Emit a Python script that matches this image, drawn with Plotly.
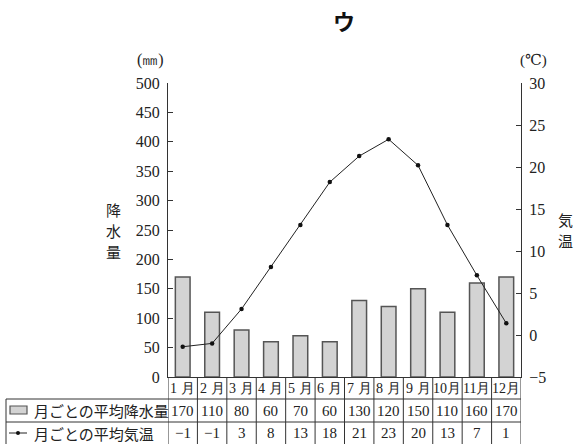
import plotly.graph_objects as go

months = ["1月", "2月", "3月", "4月", "5月", "6月", "7月", "8月", "9月", "10月", "11月", "12月"]
month_labels = ["1 月", "2 月", "3 月", "4 月", "5 月", "6 月", "7 月", "8 月", "9 月", "10月", "11月", "12月"]
precip = [170, 110, 80, 60, 70, 60, 130, 120, 150, 110, 160, 170]
temp_table = [-1, -1, 3, 8, 13, 18, 21, 23, 20, 13, 7, 1]
temp_plot = [-1.4, -1.0, 3.1, 8.1, 13.1, 18.2, 21.3, 23.3, 20.2, 13.1, 7.1, 1.4]
left_ticks = list(range(0, 501, 50))
right_ticks = list(range(-5, 31, 5))
left_title = ["降", "水", "量"]
right_title = ["気", "温"]

W, H = 578, 444
L, R, T, B = 168, 521, 83, 377
PH = B - T
PW = R - L


def py(pix):  # pixel y -> paper y
    return (B - pix) / PH


def px(pix):  # pixel x -> paper x
    return (pix - L) / PW


SERIF = "'Liberation Serif', 'DejaVu Serif', serif"
CJK = "'Noto Sans CJK JP', sans-serif"

fig = go.Figure()
fig.add_trace(go.Bar(
    x=months, y=precip, width=0.5,
    marker=dict(color="#d3d3d3", line=dict(color="#555555", width=1.5)),
    yaxis="y", showlegend=False, hoverinfo="skip",
))
fig.add_trace(go.Scatter(
    x=months, y=temp_plot, mode="lines+markers",
    line=dict(color="#222222", width=1),
    marker=dict(color="#111111", size=4.5),
    yaxis="y2", showlegend=False, hoverinfo="skip",
))

shapes = []
ann = []
lc = "#333333"
for i in range(13):
    shapes.append(dict(type="line", xref="x", yref="paper", x0=i - 0.5, x1=i - 0.5,
                       y0=0, y1=py(H + 2), line=dict(color=lc, width=1)))
shapes.append(dict(type="line", xref="paper", yref="paper", x0=px(6), x1=px(6),
                   y0=py(399), y1=py(H + 2), line=dict(color=lc, width=1)))
for yy in (399, 422):
    shapes.append(dict(type="line", xref="paper", yref="paper", x0=px(6), x1=1,
                       y0=py(yy), y1=py(yy), line=dict(color=lc, width=1)))
shapes.append(dict(type="rect", xref="paper", yref="paper", x0=px(10), x1=px(27),
                   y0=py(406), y1=py(414), fillcolor="#d3d3d3",
                   line=dict(color="#555555", width=1.2)))
shapes.append(dict(type="line", xref="paper", yref="paper", x0=px(9), x1=px(27),
                   y0=py(433), y1=py(433), line=dict(color="#222222", width=1)))
shapes.append(dict(type="circle", xref="paper", yref="paper", x0=px(16), x1=px(20),
                   y0=py(431), y1=py(435), fillcolor="#111111", line=dict(width=0)))

for i, m in enumerate(month_labels):
    ann.append(dict(x=months[i], y=py(388.5), xref="x", yref="paper", text=m, showarrow=False,
                    font=dict(family=SERIF, size=14, color="#222"), xanchor="center", yanchor="middle"))
    ann.append(dict(x=months[i], y=py(410.5), xref="x", yref="paper", text=str(precip[i]), showarrow=False,
                    font=dict(family=SERIF, size=15, color="#222"), xanchor="center", yanchor="middle"))
    t = temp_table[i]
    ttxt = ("−" + str(-t)) if t < 0 else str(t)
    ann.append(dict(x=months[i], y=py(433), xref="x", yref="paper", text=ttxt, showarrow=False,
                    font=dict(family=SERIF, size=15, color="#222"), xanchor="center", yanchor="middle"))

ann.append(dict(x=px(32), y=py(410.5), xref="paper", yref="paper", text="月ごとの平均降水量", showarrow=False,
                font=dict(family=CJK, size=15, color="#222"), xanchor="left", yanchor="middle"))
ann.append(dict(x=px(32), y=py(433), xref="paper", yref="paper", text="月ごとの平均気温", showarrow=False,
                font=dict(family=CJK, size=15, color="#222"), xanchor="left", yanchor="middle"))
ann.append(dict(x=px(150), y=py(60), xref="paper", yref="paper", text="(㎜)", showarrow=False,
                font=dict(family=SERIF, size=16, color="#222"), xanchor="center", yanchor="middle"))
ann.append(dict(x=px(533), y=py(60), xref="paper", yref="paper", text="(℃)", showarrow=False,
                font=dict(family=SERIF, size=15, color="#222"), xanchor="center", yanchor="middle"))
for k, ch in enumerate(left_title):
    ann.append(dict(x=px(113), y=py(209 + 21 * k), xref="paper", yref="paper", text=ch, showarrow=False,
                    font=dict(family=CJK, size=15, color="#222"), xanchor="center", yanchor="middle"))
for k, ch in enumerate(right_title):
    ann.append(dict(x=px(565), y=py(219 + 21 * k), xref="paper", yref="paper", text=ch, showarrow=False,
                    font=dict(family=CJK, size=15, color="#222"), xanchor="center", yanchor="middle"))

fig.update_layout(
    width=W, height=H,
    margin=dict(l=L, r=W - R, t=T, b=H - B, pad=0),
    paper_bgcolor="white", plot_bgcolor="white",
    title=dict(text="<b>ウ</b>", x=px(344), xref="paper", y=1 - 22 / H, yref="container",
               xanchor="center", yanchor="middle", font=dict(family=CJK, size=22, color="#111")),
    xaxis=dict(type="category", categoryorder="array", categoryarray=months, range=[-0.5, 11.5],
               showticklabels=False, ticks="", showline=True, linecolor=lc, linewidth=1,
               showgrid=False, zeroline=False, fixedrange=True),
    yaxis=dict(range=[0, 500], tickvals=left_ticks, ticks="inside", ticklen=5, tickcolor=lc,
               showline=True, linecolor=lc, linewidth=1, showgrid=False, zeroline=False,
               tickfont=dict(family=SERIF, size=16, color="#222"), ticklabelstandoff=4),
    yaxis2=dict(range=[-5, 30], tickvals=right_ticks, overlaying="y", side="right",
                ticks="inside", ticklen=5, tickcolor=lc, showline=True, linecolor=lc, linewidth=1,
                showgrid=False, zeroline=False,
                ticktext=[("−" + str(-v)) if v < 0 else str(v) for v in right_ticks],
                tickfont=dict(family=SERIF, size=16, color="#222"), ticklabelstandoff=4),
    shapes=shapes, annotations=ann,
    bargap=0.5,
)

fig.write_html("out.html", config={"displayModeBar": False},
               post_script="document.body.style.margin='0';document.body.style.overflow='hidden';")
